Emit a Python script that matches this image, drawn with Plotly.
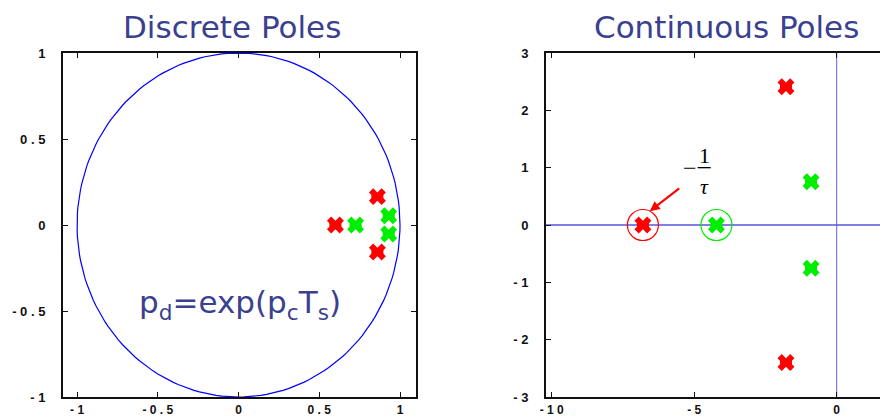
import numpy as np
import plotly.graph_objects as go

# ---------------- data ----------------
# Discrete poles (z-plane)
disc_red_re = [0.60, 0.86, 0.86]
disc_red_im = [0.0, 0.165, -0.157]
disc_green_re = [0.725, 0.93, 0.93]
disc_green_im = [0.0, 0.054, -0.052]

# Continuous poles (s-plane)
cont_red_re = [-6.8, -1.78, -1.78]
cont_red_im = [0.0, 2.41, -2.40]
cont_green_re = [-4.22, -0.9, -0.9]
cont_green_im = [0.0, 0.755, -0.755]

# circled real poles
circ_red_re, circ_red_im = [-6.8], [0.0]
circ_green_re, circ_green_im = [-4.22], [0.0]

unit_radius = 1.0

left_xticks = [-1, -0.5, 0, 0.5, 1]
left_xlabels = ["- 1", "- 0 . 5", "0", "0 . 5", "1"]
left_yticks = [-1, -0.5, 0, 0.5, 1]
left_ylabels = ["- 1", "- 0 . 5", "0", "0 . 5", "1"]
right_xticks = [-10, -5, 0]
right_xlabels = ["- 1 0", "- 5", "0"]
right_yticks = [-3, -2, -1, 0, 1, 2, 3]
right_ylabels = ["- 3", "- 2", "- 1", "0", "1", "2", "3"]

TITLE_COLOR = "#3b3f8f"
RED = "#ff0000"
GREEN = "#00ee00"

# figure is drawn inside the page body (8px default margin), so size it to the visible window
W, H = 880, 410
OFF = 8


def px(x):
    return (x - OFF) / W


def py(y):
    return 1 - (y - OFF) / H


fig = go.Figure()

theta = np.linspace(0, 2 * np.pi, 181)
fig.add_trace(go.Scatter(x=unit_radius * np.cos(theta), y=unit_radius * np.sin(theta),
                         mode="lines", line=dict(color="#0000ff", width=1.2),
                         xaxis="x", yaxis="y", hoverinfo="skip"))


def poles(x, y, color, xa, ya):
    fig.add_trace(go.Scatter(x=x, y=y, mode="markers", xaxis=xa, yaxis=ya,
                             marker=dict(symbol="bowtie", size=11, color=color,
                                         line=dict(width=1, color=color))))
    fig.add_trace(go.Scatter(x=x, y=y, mode="markers", xaxis=xa, yaxis=ya,
                             marker=dict(symbol="x", size=15, color=color,
                                         line=dict(width=0))))


poles(disc_red_re, disc_red_im, RED, "x", "y")
poles(disc_green_re, disc_green_im, GREEN, "x", "y")
poles(cont_red_re, cont_red_im, RED, "x2", "y2")
poles(cont_green_re, cont_green_im, GREEN, "x2", "y2")

fig.add_trace(go.Scatter(x=circ_red_re, y=circ_red_im, mode="markers", xaxis="x2", yaxis="y2",
                         marker=dict(symbol="circle-open", size=31, color=RED,
                                     line=dict(width=1.2, color=RED))))
fig.add_trace(go.Scatter(x=circ_green_re, y=circ_green_im, mode="markers", xaxis="x2", yaxis="y2",
                         marker=dict(symbol="circle-open", size=31, color=GREEN,
                                     line=dict(width=1.2, color=GREEN))))

# reference lines in s-plane
fig.add_shape(type="line", xref="x2 domain", yref="y2", x0=0, x1=1, y0=0, y1=0,
              line=dict(color="#0000cc", width=1.2), layer="below")
fig.add_shape(type="line", xref="x2", yref="y2 domain", x0=0, x1=0, y0=0, y1=1,
              line=dict(color="#6060e8", width=1), layer="below")

yfont = dict(family="Liberation Sans, Arial", size=13, color="#111111", weight="bold")
xfont = dict(family="Liberation Sans, Arial", size=12, color="#111111", weight="bold")
common = dict(showgrid=False, zeroline=False, showline=True, linecolor="#111111",
              linewidth=2, ticks="inside", ticklen=5, tickcolor="#111111",
              automargin=False, fixedrange=True)

x_dom_l = [px(63), px(416)]
x_dom_r = [px(546), 1.0]
y_dom = [py(397), py(53)]

fig.update_layout(
    width=W, height=H, margin=dict(l=0, r=0, t=0, b=0),
    paper_bgcolor="white", plot_bgcolor="white", showlegend=False,
    xaxis=dict(domain=x_dom_l, range=[-1.087, 1.099], tickvals=left_xticks,
               ticktext=left_xlabels, mirror="ticks", anchor="y",
               ticklabelstandoff=1, tickfont=xfont, **common),
    yaxis=dict(domain=y_dom, range=[-1, 1], tickvals=left_yticks,
               ticktext=left_ylabels, mirror="ticks", anchor="x",
               ticklabelstandoff=13, tickfont=yfont, **common),
    xaxis2=dict(domain=x_dom_r, range=[-10.2, 1.8], tickvals=right_xticks,
                ticktext=right_xlabels, mirror="ticks", anchor="y2",
                ticklabelstandoff=1, tickfont=xfont, **common),
    yaxis2=dict(domain=y_dom, range=[-3, 3], tickvals=right_yticks,
                ticktext=right_ylabels, mirror=False, anchor="x2",
                ticklabelstandoff=13, tickfont=yfont, **common),
)

title_font = dict(family="DejaVu Sans", size=31, color=TITLE_COLOR)
fig.add_annotation(text="Discrete Poles", xref="paper", yref="paper", x=px(232), y=py(8),
                   showarrow=False, font=title_font, xanchor="center", yanchor="top",
                   borderpad=0)
fig.add_annotation(text="Continuous Poles", xref="paper", yref="paper", x=px(726), y=py(8),
                   showarrow=False, font=title_font, xanchor="center", yanchor="top",
                   borderpad=0)

fig.add_annotation(text="p<sub>d</sub>=exp(p<sub>c</sub>T<sub>s</sub>)", xref="paper", yref="paper",
                   x=px(240), y=py(304), showarrow=False, xanchor="center", yanchor="middle",
                   font=dict(family="DejaVu Sans", size=31, color=TITLE_COLOR))

# -1/tau label with arrow
fig.add_annotation(xref="x2", yref="y2", x=-6.56, y=0.24, ax=31, ay=-24, text="",
                   showarrow=True, arrowhead=2, arrowsize=1, arrowwidth=2, arrowcolor=RED)
serif = dict(family="Liberation Serif, Times New Roman", size=22, color="#000000")
fig.add_annotation(text="\u2212", xref="x2", yref="y2", x=-5.15, y=1.0, showarrow=False,
                   font=dict(family="Liberation Serif", size=24, color="#000000"),
                   xanchor="center", yanchor="middle")
fig.add_annotation(text="1", xref="x2", yref="y2", x=-4.65, y=1.22, showarrow=False,
                   font=serif, xanchor="center", yanchor="middle")
fig.add_annotation(text="<i>\u03c4</i>", xref="x2", yref="y2", x=-4.65, y=0.68, showarrow=False,
                   font=serif, xanchor="center", yanchor="middle")
fig.add_shape(type="line", xref="x2", yref="y2", x0=-4.88, x1=-4.42, y0=1.0, y1=1.0,
              line=dict(color="#000000", width=1.3))

fig.write_html("out.html")
